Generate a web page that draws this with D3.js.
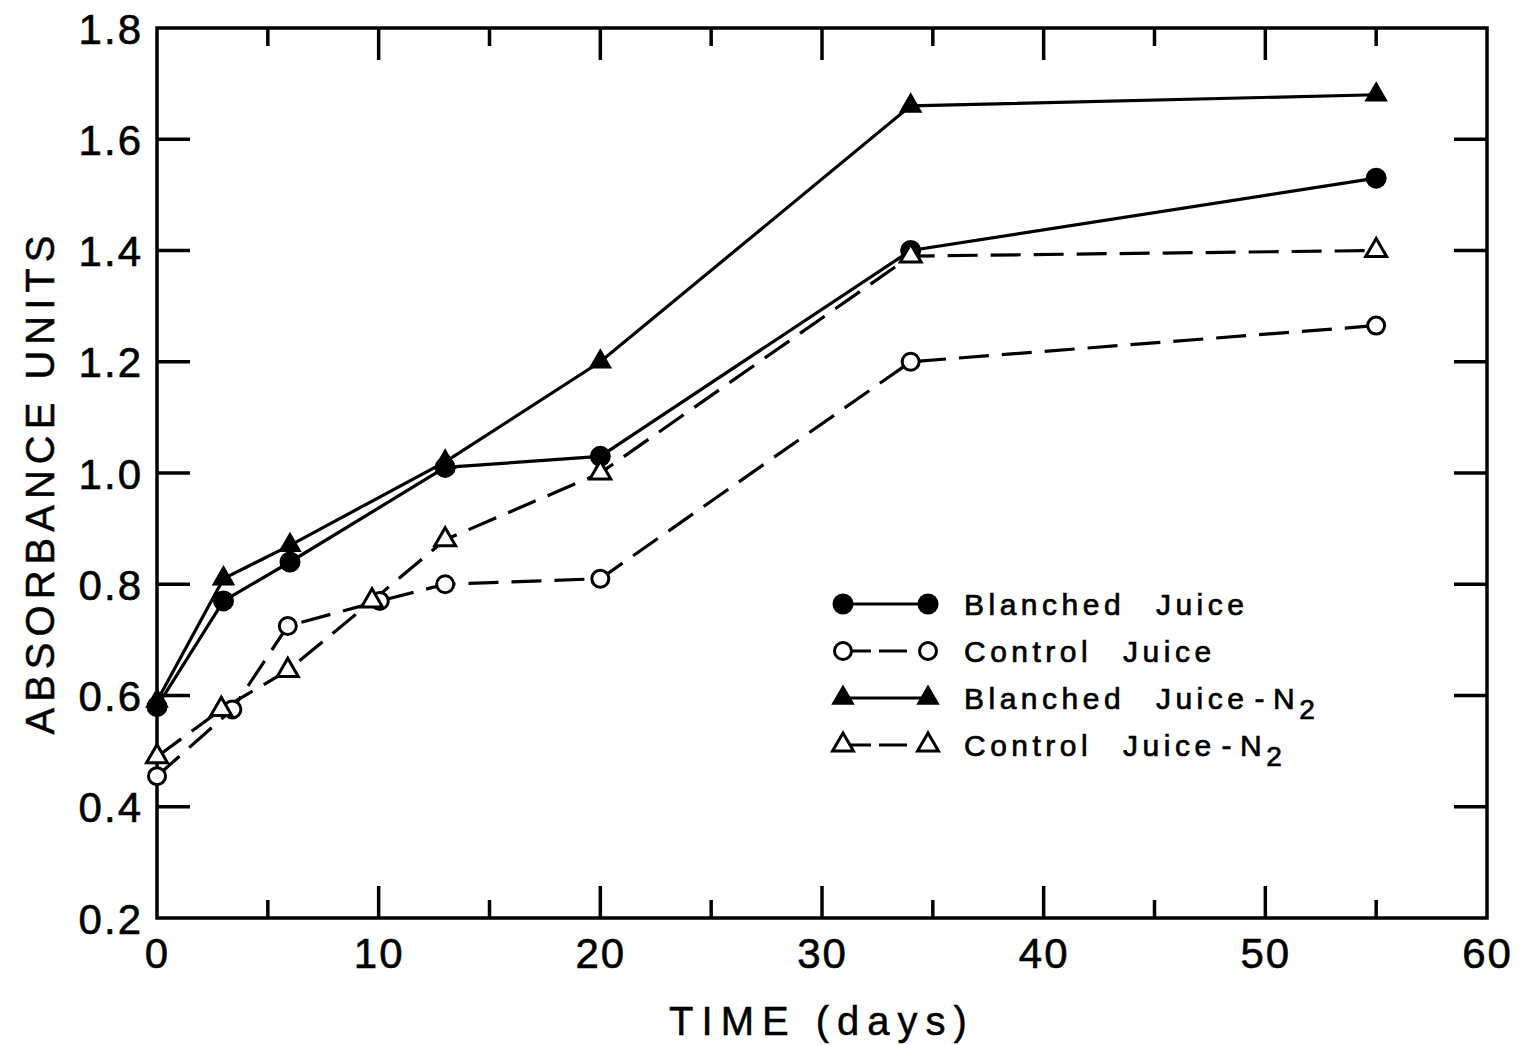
<!DOCTYPE html>
<html>
<head>
<meta charset="utf-8">
<script src="https://cdn.jsdelivr.net/npm/d3@7"></script>
<style>
  body { margin: 0; background: #fff; }
  svg { font-family: "Liberation Sans", "DejaVu Sans", sans-serif; }
</style>
</head>
<body>
<div id="chart"></div>
<script>
// data
const days_blanched = [0, 3, 6, 13, 20, 34, 55];
const blanched = [0.58, 0.77, 0.84, 1.01, 1.03, 1.40, 1.53];
const blanched_n2 = [0.59, 0.81, 0.87, 1.02, 1.20, 1.66, 1.68];

const days_control = [0, 3.4, 5.9, 10.05, 13, 20, 34, 55];
const control = [0.455, 0.575, 0.725, 0.77, 0.80, 0.81, 1.20, 1.265];

const days_control_n2 = [0, 2.9, 5.9, 9.7, 13, 20, 34, 55];
const control_n2 = [0.49, 0.575, 0.645, 0.77, 0.88, 1.00, 1.39, 1.40];

const legend_names = ["Blanched Juice", "Control Juice", "Blanched Juice", "Control Juice"];
const x_ticks = [0, 10, 20, 30, 40, 50, 60];
const y_ticks = [0.2, 0.4, 0.6, 0.8, 1.0, 1.2, 1.4, 1.6, 1.8];

const width = 1527, height = 1045;
const m_left = 157, m_right = 1487, m_top = 28, m_bottom = 918;

let svg = d3.select("#chart")
    .append("svg")
        .attr("width", width)
        .attr("height", height);

let x = d3.scaleLinear().domain([0, 60]).range([m_left, m_right]);
let y = d3.scaleLinear().domain([0.2, 1.8]).range([m_bottom, m_top]);

// series definitions (marker kind + dash)
let series = [
    {xs: days_blanched, ys: blanched, kind: "circle", filled: true, dash: null},
    {xs: days_control, ys: control, kind: "circle", filled: false, dash: "30 13"},
    {xs: days_blanched, ys: blanched_n2, kind: "triangle", filled: true, dash: null},
    {xs: days_control_n2, ys: control_n2, kind: "triangle", filled: false, dash: "30 13"}
];

//frame
svg.append("rect")
    .attr("x", m_left).attr("y", m_top)
    .attr("width", m_right - m_left).attr("height", m_bottom - m_top)
    .attr("fill", "none").attr("stroke", "#000").attr("stroke-width", 3.5);

//ticks, every 5 days, longer on the tens
let minor = d3.range(5, 60, 5);
let tick_g = svg.append("g").attr("stroke", "#000").attr("stroke-width", 3.5);
minor.forEach(function(d) {
    let len = d % 10 === 0 ? 32 : 18;
    tick_g.append("line").attr("x1", x(d)).attr("x2", x(d)).attr("y1", m_bottom).attr("y2", m_bottom - len);
    tick_g.append("line").attr("x1", x(d)).attr("x2", x(d)).attr("y1", m_top).attr("y2", m_top + len);
});
y_ticks.slice(1, -1).forEach(function(d) {
    tick_g.append("line").attr("x1", m_left).attr("x2", m_left + 33).attr("y1", y(d)).attr("y2", y(d));
    tick_g.append("line").attr("x1", m_right).attr("x2", m_right - 33).attr("y1", y(d)).attr("y2", y(d));
});

//tick labels through axis generators, lines hidden
let x_axis = svg.append("g")
    .attr("transform", `translate(0, ${m_bottom})`)
    .call(d3.axisBottom(x).tickValues(x_ticks).tickSize(0).tickPadding(14).tickFormat(d3.format("d")));
let y_axis = svg.append("g")
    .attr("transform", `translate(${m_left}, 0)`)
    .call(d3.axisLeft(y).tickValues(y_ticks).tickSize(0).tickPadding(14).tickFormat(d3.format(".1f")));
[x_axis, y_axis].forEach(function(a) {
    a.select(".domain").remove();
    a.selectAll("text")
        .attr("fill", "#000")
        .attr("stroke", "#000").attr("stroke-width", 0.6)
        .style("font-size", "42px")
        .style("letter-spacing", "2px")
        .style("font-family", "'Liberation Sans', sans-serif");
});
x_axis.selectAll("text").attr("dy", "0.85em");
y_axis.selectAll("text").attr("dy", "0.36em");

//axis titles
svg.append("text")
    .attr("x", 822).attr("y", 1035)
    .attr("text-anchor", "middle")
    .attr("stroke", "#000").attr("stroke-width", 0.5)
    .style("font-size", "40px")
    .style("letter-spacing", "8px")
    .text("TIME (days)");

svg.append("text")
    .attr("transform", `translate(54, 482) rotate(-90)`)
    .attr("text-anchor", "middle")
    .attr("stroke", "#000").attr("stroke-width", 0.5)
    .style("font-size", "40px")
    .style("letter-spacing", "6px")
    .text("ABSORBANCE UNITS");

//lines
let line = d3.line().x(d => x(d[0])).y(d => y(d[1]));

function draw_marker(g, kind, filled, cx, cy) {
    if (kind === "circle") {
        g.append("circle")
            .attr("cx", cx).attr("cy", cy)
            .attr("r", filled ? 10.5 : 8.5)
            .attr("fill", filled ? "#000" : "#fff")
            .attr("stroke", "#000").attr("stroke-width", filled ? 0 : 3);
    } else {
        g.append("path")
            .attr("d", d3.symbol().type(d3.symbolTriangle).size(filled ? 240 : 190)())
            .attr("transform", `translate(${cx}, ${cy})`)
            .attr("fill", filled ? "#000" : "#fff")
            .attr("stroke", "#000").attr("stroke-width", filled ? 0 : 3);
    }
}

series.forEach(function(s) {
    let pts = s.xs.map((d, i) => [d, s.ys[i]]);
    svg.append("path")
        .attr("d", line(pts))
        .attr("fill", "none")
        .attr("stroke", "#000")
        .attr("stroke-width", 3.2)
        .attr("stroke-dasharray", s.dash);
});
series.forEach(function(s) {
    let g = svg.append("g");
    s.xs.forEach(function(d, i) {
        draw_marker(g, s.kind, s.filled, x(d), y(s.ys[i]));
    });
});

//legend
let legend = svg.append("g").attr("class", "legend");
series.forEach(function(s, i) {
    let ly = 604 + i * 47;
    legend.append("line")
        .attr("x1", 843).attr("x2", 928).attr("y1", ly).attr("y2", ly)
        .attr("stroke", "#000").attr("stroke-width", 3)
        .attr("stroke-dasharray", s.dash ? "28 8 28" : null);
    draw_marker(legend, s.kind, s.filled, 843, ly);
    draw_marker(legend, s.kind, s.filled, 928, ly);
    let t = legend.append("text")
        .attr("x", 964).attr("y", ly + 11)
        .attr("stroke", "#000").attr("stroke-width", 0.7)
        .style("font-size", "30px")
        .style("letter-spacing", "4.5px")
        .style("word-spacing", "18px")
        .text(legend_names[i]);
    if (i >= 2) {
        t.append("tspan").attr("dx", 6).text("-");
        t.append("tspan").attr("dx", 4).text("N");
        t.append("tspan").attr("dy", 10).style("font-size", "28px").text("2");
    }
});
</script>
</body>
</html>
